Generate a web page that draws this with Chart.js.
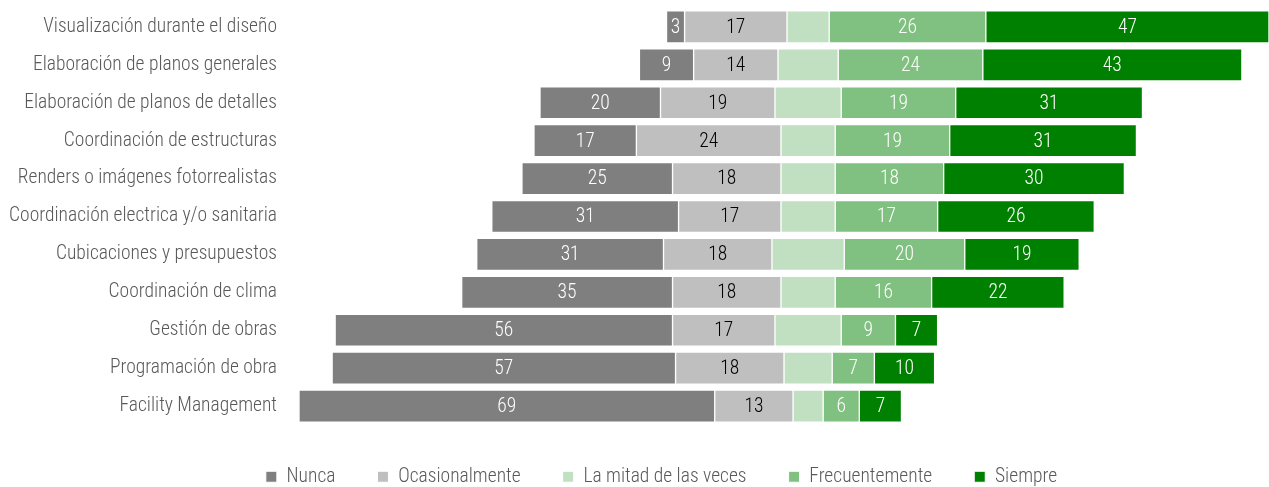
<!DOCTYPE html>
<html>
<head>
<meta charset="utf-8">
<script src="https://cdn.jsdelivr.net/npm/chart.js@4.4.1/dist/chart.umd.min.js"></script>
<style>
  html, body { margin: 0; padding: 0; background: #fff; }
  #wrap { width: 1269px; height: 487px; position: relative; }
</style>
</head>
<body>
<div id="wrap"><canvas id="chart1"></canvas></div>
<script>
const FONT = '"Roboto Condensed", "Liberation Sans", sans-serif';

const categories = [
  'Visualización durante el diseño',
  'Elaboración de planos generales',
  'Elaboración de planos de detalles',
  'Coordinación de estructuras',
  'Renders o imágenes fotorrealistas',
  'Coordinación electrica y/o sanitaria',
  'Cubicaciones y presupuestos',
  'Coordinación de clima',
  'Gestión de obras',
  'Programación de obra',
  'Facility Management'
];

const nunca          = [3, 9, 20, 17, 25, 31, 31, 35, 56, 57, 69];
const ocasionalmente = [17, 14, 19, 24, 18, 17, 18, 18, 17, 18, 13];
const mitad          = [7, 10, 11, 9, 9, 9, 12, 9, 11, 8, 5];
const frecuentemente = [26, 24, 19, 19, 18, 17, 20, 16, 9, 7, 6];
const siempre        = [47, 43, 31, 31, 30, 26, 19, 22, 7, 10, 7];

const seriesNames = ['Nunca', 'Ocasionalmente', 'La mitad de las veces', 'Frecuentemente', 'Siempre'];
const seriesColors = ['#7f7f7f', '#bfbfbf', '#c1e0c1', '#80c080', '#008000'];
const labelColors = ['#ffffff', '#000000', null, '#ffffff', '#ffffff'];

// diverging layout: centre of "La mitad" segment sits at 0
const allSeries = [nunca, ocasionalmente, mitad, frecuentemente, siempre];
const ranges = allSeries.map(() => []);
categories.forEach((c, i) => {
  let start = -(nunca[i] + ocasionalmente[i] + mitad[i] / 2);
  allSeries.forEach((s, k) => {
    ranges[k].push([start, start + s[i]]);
    start += s[i];
  });
});

const datasets = seriesNames.map((name, k) => ({
  label: name,
  data: ranges[k],
  values: allSeries[k],
  labelColor: labelColors[k],
  backgroundColor: seriesColors[k],
  borderColor: '#ffffff',
  borderWidth: 1,
  borderSkipped: false,
  grouped: false,
  barThickness: 32
}));

// numbers inside the bars
const valueLabels = {
  id: 'valueLabels',
  afterDatasetsDraw(chart) {
    const ctx = chart.ctx;
    ctx.save();
    ctx.font = '300 19.5px ' + FONT;
    ctx.textAlign = 'center';
    ctx.textBaseline = 'middle';
    chart.data.datasets.forEach((ds, k) => {
      if (!ds.labelColor) return;
      const meta = chart.getDatasetMeta(k);
      meta.data.forEach((bar, i) => {
        ctx.fillStyle = ds.labelColor;
        ctx.fillText(String(ds.values[i]), (bar.x + bar.base) / 2, bar.y + 1);
      });
    });
    ctx.restore();
  }
};

// keep the legend short even with wide item spacing, and nudge it right
const legendFit = {
  id: 'legendFit',
  afterInit(chart) {
    const lg = chart.legend;
    const fit = lg.fit;
    lg.fit = function() { fit.call(this); this.height = 62; };
  },
  afterLayout(chart) {
    chart.legend.left += 27;
    chart.legend.right += 27;
  }
};

new Chart(document.getElementById('chart1').getContext('2d'), {
  type: 'bar',
  data: { labels: categories, datasets: datasets },
  options: {
    indexAxis: 'y',
    responsive: true,
    maintainAspectRatio: false,
    animation: false,
    layout: { padding: { top: 8, right: 0, bottom: 0, left: 0 } },
    scales: {
      x: {
        display: false,
        min: -84.5,
        max: 76.5
      },
      y: {
        grid: { display: false, drawTicks: false },
        border: { display: false },
        ticks: {
          color: '#595959',
          padding: 22,
          font: { family: FONT, size: 19.5, weight: '300' }
        },
        afterFit(scale) {
          scale.width = 299;
          scale.paddingTop = 0;
          scale.paddingBottom = 0;
        }
      }
    },
    plugins: {
      legend: {
        position: 'bottom',
        labels: {
          color: '#595959',
          boxWidth: 11,
          boxHeight: 11,
          padding: 42,
          font: { family: FONT, size: 19.5, weight: '300' }
        }
      },
      tooltip: { enabled: false }
    }
  },
  plugins: [valueLabels, legendFit]
});
</script>
</body>
</html>
